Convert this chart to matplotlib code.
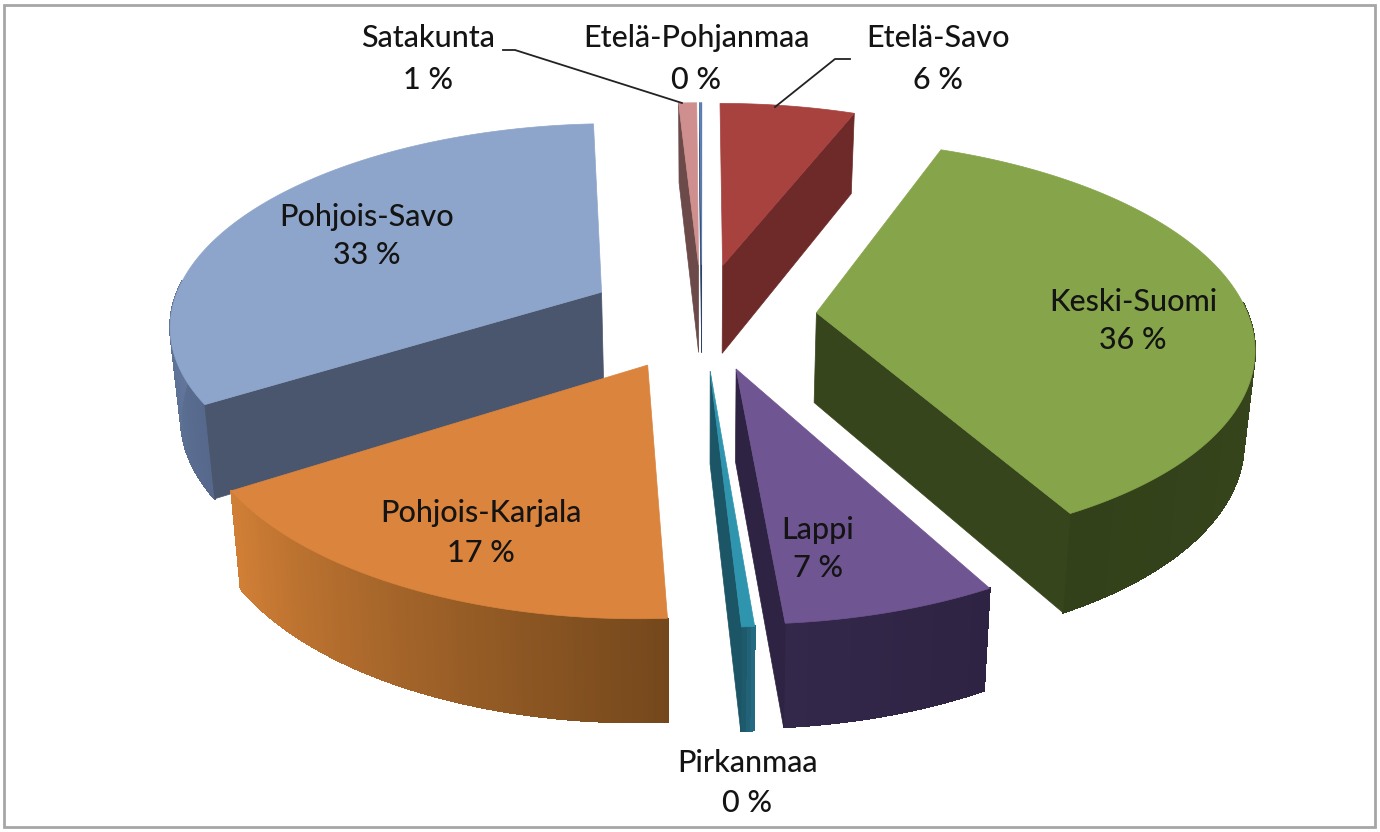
import numpy as np
import matplotlib
matplotlib.use("Agg")
import matplotlib.pyplot as plt
from matplotlib.collections import PolyCollection
from matplotlib.colors import to_rgb
from matplotlib.patches import Polygon, Rectangle

plt.rcParams['font.family'] = ['Lato', 'DejaVu Sans']

# clockwise from 12 o'clock
regions = ["Etelä-Savo", "Keski-Suomi", "Lappi", "Pirkanmaa",
           "Pohjois-Karjala", "Pohjois-Savo", "Satakunta", "Etelä-Pohjanmaa"]
values = [6.0, 36.4, 6.7, 0.4, 17.0, 33.4, 0.8, 0.1]
percent_labels = ["6 %", "36 %", "7 %", "0 %", "17 %", "33 %", "1 %", "0 %"]

top_colors = ["#a8423f", "#86a44a", "#6f5592", "#2f95ae", "#db843d", "#8ea5cb", "#ce8f8e", "#5f82b8"]
cut_colors = ["#6d2a29", "#36451c", "#2e2342", "#1b5566", "#8a5526", "#4a566d", "#6c4a4a", "#2c4368"]
rim_start = ["#7a3230", "#3b4c1f", "#2e2342", "#246a80", "#74481c", "#56698c", "#8a5f5f", "#3a5680"]
rim_end = ["#7a3230", "#33411a", "#33284a", "#1e5a6c", "#d17f36", "#8099c2", "#8a5f5f", "#3a5680"]

# label centre, pixels
label_pos = {
    "Etelä-Savo": (938, 38, 80), "Keski-Suomi": (1133, 302, 340),
    "Lappi": (818, 530, 568), "Pirkanmaa": (747, 763, 803),
    "Pohjois-Karjala": (481, 513, 553), "Pohjois-Savo": (367, 217, 255),
    "Satakunta": (428, 38, 80), "Etelä-Pohjanmaa": (696, 38, 80),
}
leaders = [[(503, 50), (515, 50), (682, 103)], [(850, 59), (835, 59), (775, 107)]]

CX, CY = 702, 316
RX, RY = 432, 200
PERSP = 0.148
EXPLODE = 0.266
DEPTH = 90


def project(x, v, bottom=False):
    s = 1 / (1 + PERSP * v)
    px = RX * x * s
    py = -RY * v * s
    if bottom:
        px = px * 0.98
        py = py + DEPTH * s ** 0.7
    return CX + px, CY + py


def draw_slice(ax, a0, a1, top, cut, c0, c1):
    mid = (a0 + a1) / 2
    ox, ov = EXPLODE * np.sin(mid), EXPLODE * np.cos(mid)
    ang = np.linspace(a0, a1, max(int((a1 - a0) / 0.01), 4))
    xs = ox + np.sin(ang)
    vs = ov + np.cos(ang)
    up = np.column_stack(project(xs, vs))
    dn = np.column_stack(project(xs, vs, True))

    # rim, shaded along the arc, only the part turned to the viewer
    n = len(up) - 1
    c0, c1 = np.array(to_rgb(c0)), np.array(to_rgb(c1))
    quads = []
    cols = []
    for i in range(n):
        if np.cos(ang[i]) < 0.05:
            quads.append([up[i], up[i + 1], dn[i + 1], dn[i]])
            cols.append(c0 + (c1 - c0) * i / max(n - 1, 1))
    if quads:
        ax.add_collection(PolyCollection(quads, facecolors=cols, edgecolors=cols,
                                         linewidths=0.8, antialiaseds=False))

    # cut faces, the ones whose outward side looks down at the viewer
    for a, normal_v in ((a0, np.sin(a0)), (a1, -np.sin(a1))):
        if normal_v >= 0:
            continue
        ex, ev = ox + np.sin(a), ov + np.cos(a)
        t = np.linspace(0, 1, 30)
        lx, lv = ox + (ex - ox) * t, ov + (ev - ov) * t
        fu = np.column_stack(project(lx, lv))
        fd = np.column_stack(project(lx, lv, True))
        ax.add_patch(Polygon(np.vstack([fu, fd[::-1]]), fc=cut, ec=cut, lw=0.5))

    # top face
    tip = np.array(project(ox, ov))
    ax.add_patch(Polygon(np.vstack([tip, up]), fc=top, ec=top, lw=0.5))


fig = plt.figure(figsize=(13.8, 8.32), dpi=100)
ax = fig.add_axes([0, 0, 1, 1])
ax.set_xlim(0, 1380)
ax.set_ylim(832, 0)
ax.axis("off")

ax.add_patch(Rectangle((4, 5), 1371, 822, fc="white", ec="#a6a6a6", lw=2))

fracs = np.array(values) / sum(values) * 2 * np.pi
ends = np.cumsum(fracs)
starts = ends - fracs
mids = (starts + ends) / 2

# far slices first so that near ones paint over them
for i in np.argsort(-np.cos(mids)):
    draw_slice(ax, starts[i], ends[i], top_colors[i], cut_colors[i], rim_start[i], rim_end[i])

for line in leaders:
    ax.plot(*zip(*line), color="#222222", lw=1.3)

for name, pct in zip(regions, percent_labels):
    x, y1, y2 = label_pos[name]
    ax.text(x, y1, name, ha="center", va="center", fontsize=22, fontweight="medium", color="#141414")
    ax.text(x, y2, pct, ha="center", va="center", fontsize=22, fontweight="medium", color="#141414")

fig.savefig("out.png", dpi=100)
